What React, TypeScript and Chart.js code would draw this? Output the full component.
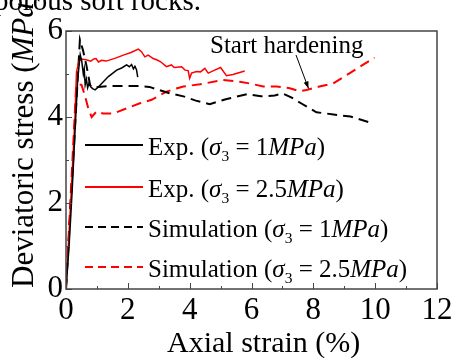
import React, { useEffect, useRef } from "react";
import { Chart, registerables } from "chart.js";

Chart.register(...registerables);

const FONT = '"Liberation Serif", "Times New Roman", Times, serif';

// ---- data ----
const xTickValues = [0, 2, 4, 6, 8, 10, 12];
const yTickValues = [0, 2, 4, 6];

const exp1Strain = [0, 0.1, 0.2, 0.3, 0.38, 0.46, 0.51, 0.56, 0.59, 0.62, 0.66, 0.7, 0.75, 0.8, 0.86, 0.94, 1.02, 1.1, 1.37, 1.64, 1.8, 1.96, 2.05, 2.12, 2.18, 2.23, 2.28, 2.32];
const exp1Stress = [0, 1.0, 2.3, 3.8, 4.9, 5.45, 5.3, 5.0, 5.12, 4.75, 4.88, 4.68, 4.8, 4.7, 4.66, 4.63, 4.68, 4.74, 4.94, 5.09, 5.14, 5.21, 5.17, 5.22, 5.12, 5.18, 5.1, 4.93];

const exp25Strain = [0, 0.15, 0.29, 0.34, 0.42, 0.5, 0.65, 0.8, 0.9, 0.97, 1.05, 1.15, 1.3, 1.6, 1.9, 2.1, 2.34, 2.44, 2.55, 2.66, 2.82, 2.93, 3.05, 3.25, 3.41, 3.5, 3.74, 3.85, 3.95, 4.0, 4.06, 4.22, 4.35, 4.49, 4.6, 4.81, 5.0, 5.19, 5.4, 5.78];
const exp25Stress = [0, 2.0, 4.0, 5.05, 5.3, 5.35, 5.33, 5.3, 5.35, 5.36, 5.28, 5.32, 5.3, 5.37, 5.45, 5.5, 5.58, 5.52, 5.4, 5.44, 5.36, 5.33, 5.29, 5.17, 5.21, 5.15, 5.17, 5.09, 5.08, 4.9, 5.02, 5.06, 5.05, 5.13, 5.02, 5.09, 5.15, 4.96, 4.99, 5.07];

const sim1Strain = [0, 0.45, 0.55, 0.66, 0.78, 0.88, 1.04, 1.4, 2.0, 2.4, 2.7, 3.0, 3.36, 3.8, 4.2, 4.65, 5.2, 5.85, 6.3, 6.75, 7.0, 7.3, 7.6, 8.1, 8.65, 9.2, 9.8];
const sim1Stress = [0, 5.8, 5.55, 5.2, 4.74, 4.68, 4.7, 4.72, 4.72, 4.72, 4.7, 4.63, 4.55, 4.48, 4.38, 4.3, 4.42, 4.53, 4.48, 4.5, 4.55, 4.45, 4.32, 4.11, 4.06, 4.01, 3.88];

const sim25Strain = [0, 0.33, 0.5, 0.61, 0.72, 0.83, 0.99, 1.2, 1.53, 1.96, 2.39, 2.77, 3.25, 3.6, 3.8, 4.33, 5.08, 5.62, 5.94, 6.38, 6.81, 7.24, 7.56, 7.78, 8.2, 8.64, 9.18, 9.6, 9.98];
const sim25Stress = [0, 4.75, 4.75, 4.5, 4.2, 4.0, 4.13, 4.08, 4.08, 4.2, 4.32, 4.4, 4.59, 4.67, 4.71, 4.76, 4.86, 4.82, 4.78, 4.71, 4.71, 4.67, 4.6, 4.63, 4.71, 4.78, 5.02, 5.21, 5.38];

const legendPrefixes = ["Exp.", "Exp.", "Simulation", "Simulation"];
const legendPressures = ["1", "2.5", "1", "2.5"];
const seriesColors = ["#000000", "#ff0000", "#000000", "#ff0000"];
const seriesDashed = [false, false, true, true];

const annotationText = "Start hardening";
const xTitle = "Axial strain (%)";
const captionText = "porous soft rocks.";

type Part = { t: string; italic?: boolean; sub?: boolean };

function drawRich(ctx: CanvasRenderingContext2D, x: number, y: number, parts: Part[], size: number) {
  let cx = x;
  for (const p of parts) {
    const s = p.sub ? size * 0.62 : size;
    ctx.font = `${p.italic ? "italic " : ""}${s}px ${FONT}`;
    ctx.fillText(p.t, cx, y + (p.sub ? size * 0.22 : 0));
    cx += ctx.measureText(p.t).width;
  }
}

const overlayPlugin = {
  id: "overlay",
  afterDraw(chart: any) {
    const ctx: CanvasRenderingContext2D = chart.ctx;
    const a = chart.chartArea;
    const xs = chart.scales.x;
    const ys = chart.scales.y;
    ctx.save();
    // frame
    ctx.strokeStyle = "#444";
    ctx.lineWidth = 1.5;
    ctx.setLineDash([]);
    ctx.strokeRect(a.left, a.top, a.right - a.left, a.bottom - a.top);
    // inward ticks
    ctx.lineWidth = 1;
    ctx.beginPath();
    for (let v = 0; v <= 12; v++) {
      const px = Math.round(xs.getPixelForValue(v)) + 0.5;
      const len = v % 2 === 0 ? 6 : 3;
      ctx.moveTo(px, a.bottom);
      ctx.lineTo(px, a.bottom - len);
    }
    for (let v = 0; v <= 6; v++) {
      const py = Math.round(ys.getPixelForValue(v)) + 0.5;
      const len = v % 2 === 0 ? 6 : 3;
      ctx.moveTo(a.left, py);
      ctx.lineTo(a.left + len, py);
    }
    ctx.stroke();

    ctx.fillStyle = "#000";
    ctx.textAlign = "left";
    ctx.textBaseline = "alphabetic";

    // caption remnant at the top
    ctx.font = `29px ${FONT}`;
    ctx.fillText(captionText, -6, 10);

    // y title (rotated)
    ctx.save();
    ctx.translate(33, 288);
    ctx.rotate(-Math.PI / 2);
    drawRich(ctx, 0, 0, [{ t: "Deviatoric stress (" }, { t: "MPa", italic: true }, { t: ")" }], 31);
    ctx.restore();

    // x title
    ctx.font = `30px ${FONT}`;
    ctx.fillText(xTitle, 167, 352);

    // legend
    const rowLine = [145, 187, 227, 267];
    for (let i = 0; i < 4; i++) {
      const ly = rowLine[i];
      ctx.strokeStyle = seriesColors[i];
      ctx.lineWidth = 2;
      ctx.setLineDash(seriesDashed[i] ? [8, 5] : []);
      ctx.beginPath();
      ctx.moveTo(85, ly);
      ctx.lineTo(143, ly);
      ctx.stroke();
      ctx.setLineDash([]);
      ctx.fillStyle = "#000";
      drawRich(
        ctx,
        148,
        ly + 10,
        [
          { t: legendPrefixes[i] + " (" },
          { t: "σ", italic: true },
          { t: "3", sub: true },
          { t: " = " + legendPressures[i] },
          { t: "MPa", italic: true },
          { t: ")" },
        ],
        25
      );
    }

    // annotation
    ctx.fillStyle = "#000";
    ctx.font = `25px ${FONT}`;
    ctx.fillText(annotationText, 210, 53);
    const x1 = 296, y1 = 55, x2 = 308.5, y2 = 88.5;
    ctx.strokeStyle = "#000";
    ctx.lineWidth = 1;
    ctx.beginPath();
    ctx.moveTo(x1, y1);
    ctx.lineTo(x2, y2);
    ctx.stroke();
    const ang = Math.atan2(y2 - y1, x2 - x1);
    const hl = 7, hw = 2.5;
    ctx.beginPath();
    ctx.moveTo(x2, y2);
    ctx.lineTo(x2 - hl * Math.cos(ang) + hw * Math.sin(ang), y2 - hl * Math.sin(ang) - hw * Math.cos(ang));
    ctx.lineTo(x2 - hl * Math.cos(ang) - hw * Math.sin(ang), y2 - hl * Math.sin(ang) + hw * Math.cos(ang));
    ctx.closePath();
    ctx.fill();
    ctx.restore();
  },
};

function pts(xs: number[], ys: number[]) {
  return xs.map((x, i) => ({ x, y: ys[i] }));
}

export default function App() {
  const ref = useRef<HTMLCanvasElement | null>(null);
  useEffect(() => {
    if (!ref.current) return;
    const seriesX = [exp1Strain, exp25Strain, sim1Strain, sim25Strain];
    const seriesY = [exp1Stress, exp25Stress, sim1Stress, sim25Stress];
    const chart = new Chart(ref.current, {
      type: "line",
      data: {
        datasets: seriesX.map((xs, i) => ({
          label: legendPrefixes[i] + " " + legendPressures[i],
          data: pts(xs, seriesY[i]),
          borderColor: seriesColors[i],
          borderWidth: seriesDashed[i] ? 2 : 1.5,
          borderDash: seriesDashed[i] ? [10, 6] : [],
          pointRadius: 0,
          tension: 0,
          fill: false,
        })),
      },
      options: {
        animation: false,
        responsive: false,
        devicePixelRatio: 1,
        parsing: true,
        layout: { padding: { top: 31, right: 15, left: 0, bottom: 0 } },
        plugins: { legend: { display: false }, tooltip: { enabled: false } },
        scales: {
          x: {
            type: "linear",
            min: 0,
            max: 12,
            afterBuildTicks: (s: any) => {
              s.ticks = xTickValues.map((v) => ({ value: v }));
            },
            afterFit: (s: any) => {
              s.height = 69;
              s.paddingLeft = 0;
              s.paddingRight = 0;
            },
            grid: { display: false, drawTicks: false },
            border: { display: false },
            ticks: { color: "#000", font: { family: FONT, size: 31 }, padding: 3, maxRotation: 0, autoSkip: false },
          },
          y: {
            type: "linear",
            min: 0,
            max: 6,
            afterBuildTicks: (s: any) => {
              s.ticks = yTickValues.map((v) => ({ value: v }));
            },
            afterFit: (s: any) => {
              s.width = 66;
              s.paddingTop = 0;
              s.paddingBottom = 0;
            },
            grid: { display: false, drawTicks: false },
            border: { display: false },
            ticks: { color: "#000", font: { family: FONT, size: 31 }, padding: 3, autoSkip: false },
          },
        },
      } as any,
      plugins: [overlayPlugin],
    });
    return () => chart.destroy();
  }, []);
  return (
    <div style={{ position: "fixed", left: 0, top: 0, width: 452, height: 358, background: "#fff" }}>
      <canvas ref={ref} width={452} height={358} style={{ display: "block", width: 452, height: 358 }} />
    </div>
  );
}
